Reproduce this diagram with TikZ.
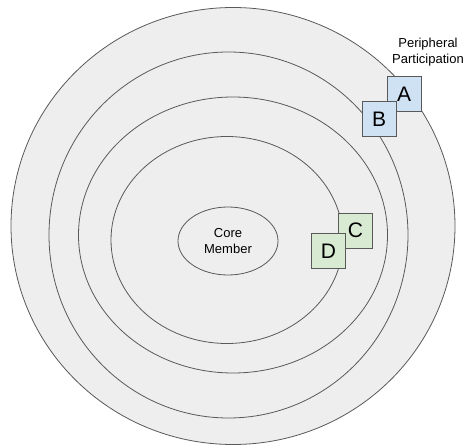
\documentclass[tikz,border=0pt]{standalone}
\usepackage{fontspec}
\setmainfont{Liberation Sans}
\usetikzlibrary{shapes.geometric}
\definecolor{ringfill}{HTML}{EEEEEE}
\definecolor{ringline}{HTML}{595959}
\definecolor{bluefill}{HTML}{CFE2F3}
\definecolor{greenfill}{HTML}{D9EAD3}
\begin{document}
\begin{tikzpicture}[x=1pt,y=-1pt,
  ring/.style={ellipse, draw=ringline, fill=ringfill, line width=0.8pt, inner sep=0pt},
  box/.style={rectangle, draw=ringline, line width=0.8pt, minimum width=34pt, minimum height=35pt, inner sep=0pt, font=\fontsize{21}{23}\selectfont},
  lbl/.style={font=\fontsize{13}{15.5}\selectfont, align=center}]
\useasboundingbox (0,0) rectangle (466,446);
\node[ring, minimum width=444pt, minimum height=437pt] (r1) at (233,226) {};
\node[ring, minimum width=359pt, minimum height=366pt] (r2) at (228.5,235) {};
\node[ring, minimum width=309pt, minimum height=276pt] (r3) at (233,235) {};
\node[ring, minimum width=232pt, minimum height=207pt] (r4) at (227,240) {};
\node[ring, minimum width=100pt, minimum height=68pt, lbl] (core) at (228,241) {Core\\Member};
\node[lbl] (pp) at (428,52) {Peripheral\\Participation};
\node[box, fill=bluefill] (A) at (404,94) {A};
\node[box, fill=bluefill] (B) at (379,119) {B};
\node[box, fill=greenfill] (C) at (355.5,230.5) {C};
\node[box, fill=greenfill] (D) at (328.5,251) {D};
\end{tikzpicture}
\end{document}
